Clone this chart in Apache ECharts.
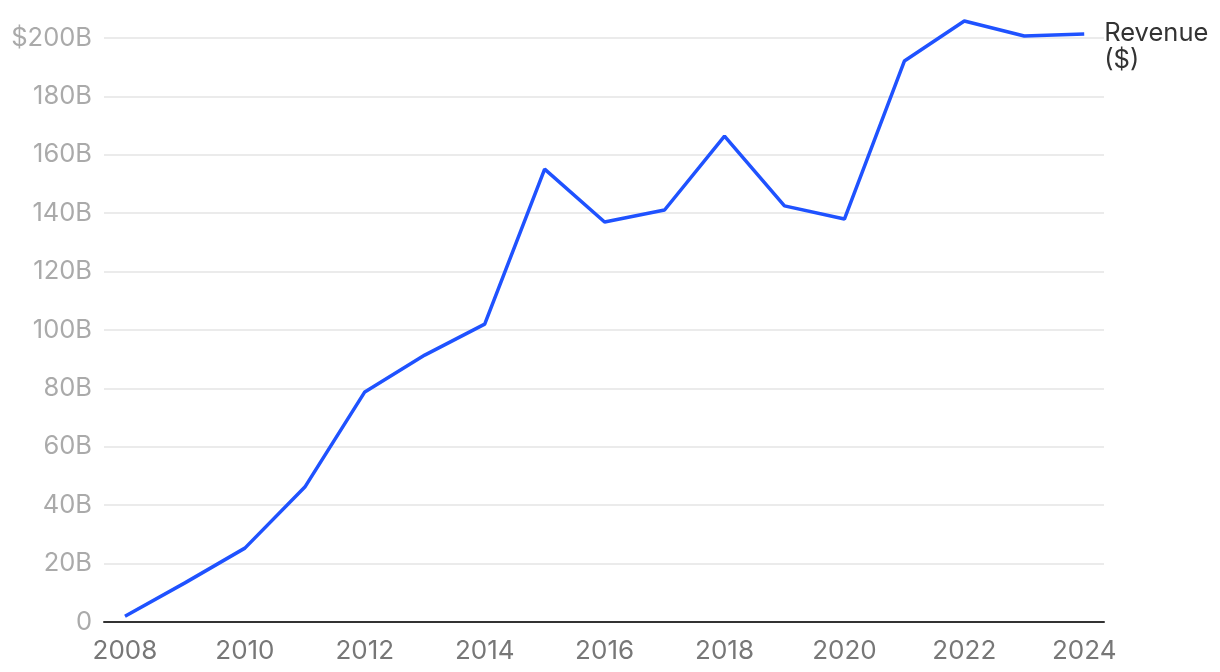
<!DOCTYPE html>
<html>
<head>
<meta charset="utf-8">
<script src="https://cdn.jsdelivr.net/npm/echarts@6/dist/echarts.min.js"></script>
<style>
  html, body { margin: 0; padding: 0; background: #fff; }
  #chart { width: 1220px; height: 672px; }
</style>
</head>
<body>
<div id="chart"></div>
<script>
// revenue by year, billions of dollars
const years = [2008, 2009, 2010, 2011, 2012, 2013, 2014, 2015, 2016,
               2017, 2018, 2019, 2020, 2021, 2022, 2023, 2024];
const revenue = [2.0, 13.4, 25.3, 46.2, 78.8, 91.4, 102.0, 155.1, 137.0,
                 141.1, 166.4, 142.5, 138.0, 192.1, 205.8, 200.7, 201.4];
const yearTicks = [2008, 2010, 2012, 2014, 2016, 2018, 2020, 2022, 2024];
const seriesName = 'Revenue\n($)';

const chart = echarts.init(document.getElementById('chart'));

let option = {
  animation: false,
  textStyle: { fontFamily: 'Inter' },
  grid: { left: 104, right: 116, top: 38, bottom: 50 },
  xAxis: {
    type: 'value',
    min: 2007.65,
    max: 2024.33,
    axisLine: { show: true, onZero: false, lineStyle: { color: '#333', width: 2 } },
    axisTick: { show: false },
    splitLine: { show: false },
    axisLabel: {
      customValues: yearTicks,
      color: '#777',
      fontSize: 26,
      margin: 16,
      formatter: v => String(v)
    }
  },
  yAxis: {
    type: 'value',
    min: 0,
    max: 200,
    interval: 20,
    axisLine: { show: false },
    axisTick: { show: false },
    splitLine: { lineStyle: { color: '#e4e4e4', width: 1.5 } },
    axisLabel: {
      color: '#aaa',
      fontSize: 25.5,
      margin: 12,
      formatter: v => v === 0 ? '0' : (v === 200 ? '$200B' : v + 'B')
    }
  },
  series: [{
    name: seriesName,
    type: 'line',
    clip: false,
    symbol: 'none',
    lineStyle: { color: '#1f52ff', width: 3.5 },
    data: years.map((y, i) => [y, revenue[i]]),
    endLabel: {
      show: true,
      formatter: seriesName,
      color: '#333',
      fontSize: 25.5,
      lineHeight: 27,
      distance: 20,
      align: 'left',
      verticalAlign: 'top',
      offset: [0, -14]
    }
  }]
};

chart.setOption(option);
</script>
</body>
</html>
